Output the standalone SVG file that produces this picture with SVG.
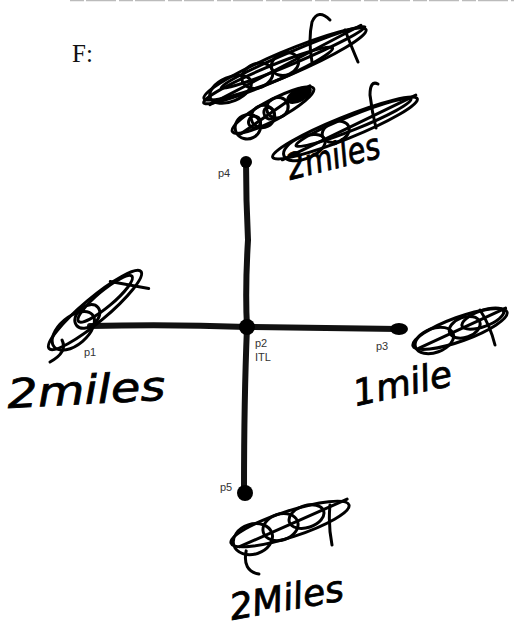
<svg xmlns="http://www.w3.org/2000/svg" width="514" height="632" viewBox="0 0 514 632">
<style>
.lbl{font-family:"Liberation Sans",Arial,sans-serif;font-size:11px;fill:#333}
.hand{font-family:"DejaVu Sans","Liberation Sans",sans-serif;fill:#000;stroke:#000;stroke-width:0.8;font-style:italic}
.scr{fill:none;stroke:#000;stroke-width:3;stroke-linecap:round}
.edge{fill:none;stroke:#111;stroke-width:6;stroke-linecap:round}
</style>
<rect width="514" height="632" fill="#fff"/>
<line x1="70" y1="0.5" x2="514" y2="0.5" stroke="#bbb" stroke-width="1.5" stroke-dasharray="14 2 30 3"/>
<text x="72" y="62" font-family="Liberation Serif,serif" font-size="25" fill="#111">F:</text>

<g id="connectors">
<path class="edge" d="M90 326 Q170 324 247 327 Q320 328 398 329"/>
<path class="edge" d="M246 160 Q246 200 248 240 Q245 290 247 327 Q244 400 244 490"/>
</g>

<g id="p2"><circle cx="247" cy="327" r="8" fill="#000"/><text class="lbl" x="255" y="347">p2</text><text class="lbl" x="255" y="361">ITL</text></g>
<g id="p4"><circle cx="246" cy="162" r="6" fill="#000"/><text class="lbl" x="218" y="177">p4</text></g>
<g id="p3"><ellipse cx="399" cy="329" rx="9" ry="6" fill="#000"/><text class="lbl" x="376" y="350">p3</text></g>
<g id="p1"><text class="lbl" x="84" y="356">p1</text></g>
<g id="p5"><ellipse cx="245" cy="493" rx="8" ry="8" fill="#000"/><text class="lbl" x="220" y="491">p5</text></g>

<!-- top scribbles -->
<g id="scribble-top">
<g transform="translate(285 64) rotate(-23)">
<ellipse class="scr" cx="0" cy="0" rx="88" ry="12"/>
<ellipse class="scr" cx="-20" cy="4" rx="70" ry="8"/>
<ellipse class="scr" cx="10" cy="-3" rx="78" ry="6"/>
<ellipse class="scr" cx="-60" cy="2" rx="22" ry="12"/>
<ellipse class="scr" cx="-30" cy="0" rx="16" ry="12"/>
<ellipse class="scr" cx="0" cy="0" rx="14" ry="11"/>
<line class="scr" x1="-85" y1="8" x2="85" y2="-6"/>
</g>
<path class="scr" d="M330 20 Q318 8 312 22 Q308 40 312 62"/>
<path class="scr" d="M345 30 Q352 48 358 62"/>
<g transform="translate(273 110) rotate(-28)">
<ellipse class="scr" cx="0" cy="0" rx="46" ry="10" stroke-width="5"/>
<ellipse class="scr" cx="-30" cy="3" rx="13" ry="12"/>
<ellipse class="scr" cx="-12" cy="1" rx="12" ry="11"/>
<ellipse class="scr" cx="5" cy="0" rx="11" ry="10"/>
<ellipse class="scr" cx="-22" cy="2" rx="6" ry="6"/>
<ellipse class="scr" cx="-5" cy="1" rx="5" ry="6"/>
<ellipse cx="30" cy="-1" rx="14" ry="7" fill="#000"/>
<line class="scr" x1="-40" y1="6" x2="44" y2="-4"/>
</g>
<g transform="translate(345 128) rotate(-22)">
<ellipse class="scr" cx="0" cy="0" rx="78" ry="11"/>
<ellipse class="scr" cx="10" cy="-2" rx="62" ry="7"/>
<ellipse class="scr" cx="-45" cy="3" rx="22" ry="11"/>
<ellipse class="scr" cx="-10" cy="0" rx="14" ry="10"/>
<line class="scr" x1="-70" y1="6" x2="78" y2="-4"/>
</g>
<path class="scr" d="M378 84 Q370 80 370 95 Q372 112 376 128"/>
</g>
<text class="hand" x="290" y="180" font-size="36" textLength="95" lengthAdjust="spacingAndGlyphs" transform="rotate(-14 290 180)">2miles</text>

<!-- left -->
<g id="scribble-left" transform="translate(95 310) rotate(-40)">
<ellipse class="scr" cx="0" cy="0" rx="60" ry="12"/>
<ellipse class="scr" cx="-30" cy="2" rx="25" ry="14"/>
<ellipse class="scr" cx="15" cy="-2" rx="35" ry="8"/>
<ellipse class="scr" cx="-10" cy="0" rx="14" ry="10"/>
<line class="scr" x1="30" y1="-12" x2="55" y2="18"/>
</g>
<path class="scr" d="M62 340 Q68 352 50 362"/>
<text class="hand" x="8" y="408" font-size="40" textLength="158" lengthAdjust="spacingAndGlyphs" transform="rotate(-3 8 408)">2miles</text>

<!-- right -->
<g id="scribble-right" transform="translate(460 329) rotate(-20)">
<ellipse class="scr" cx="0" cy="0" rx="50" ry="12"/>
<ellipse class="scr" cx="-28" cy="2" rx="20" ry="12"/>
<ellipse class="scr" cx="5" cy="0" rx="16" ry="10"/>
<ellipse class="scr" cx="25" cy="-2" rx="22" ry="8"/>
<line class="scr" x1="-45" y1="4" x2="50" y2="-4"/>
</g>
<path class="scr" d="M480 310 Q490 325 495 345"/>
<text class="hand" x="356" y="406" font-size="36" transform="rotate(-12 356 406)">1mile</text>

<!-- bottom -->
<g id="scribble-bottom" transform="translate(290 524) rotate(-18)">
<ellipse class="scr" cx="0" cy="0" rx="62" ry="13"/>
<ellipse class="scr" cx="-40" cy="3" rx="20" ry="15"/>
<ellipse class="scr" cx="-10" cy="0" rx="18" ry="13"/>
<ellipse class="scr" cx="18" cy="-2" rx="18" ry="11"/>
<line class="scr" x1="-55" y1="6" x2="62" y2="-6"/>
<path class="scr" d="M-50 12 Q-60 30 -45 38"/>
</g>
<path class="scr" d="M330 505 Q328 525 332 545"/>
<text class="hand" x="232" y="620" font-size="36" textLength="115" lengthAdjust="spacingAndGlyphs" transform="rotate(-10 232 620)">2Miles</text>
</svg>
